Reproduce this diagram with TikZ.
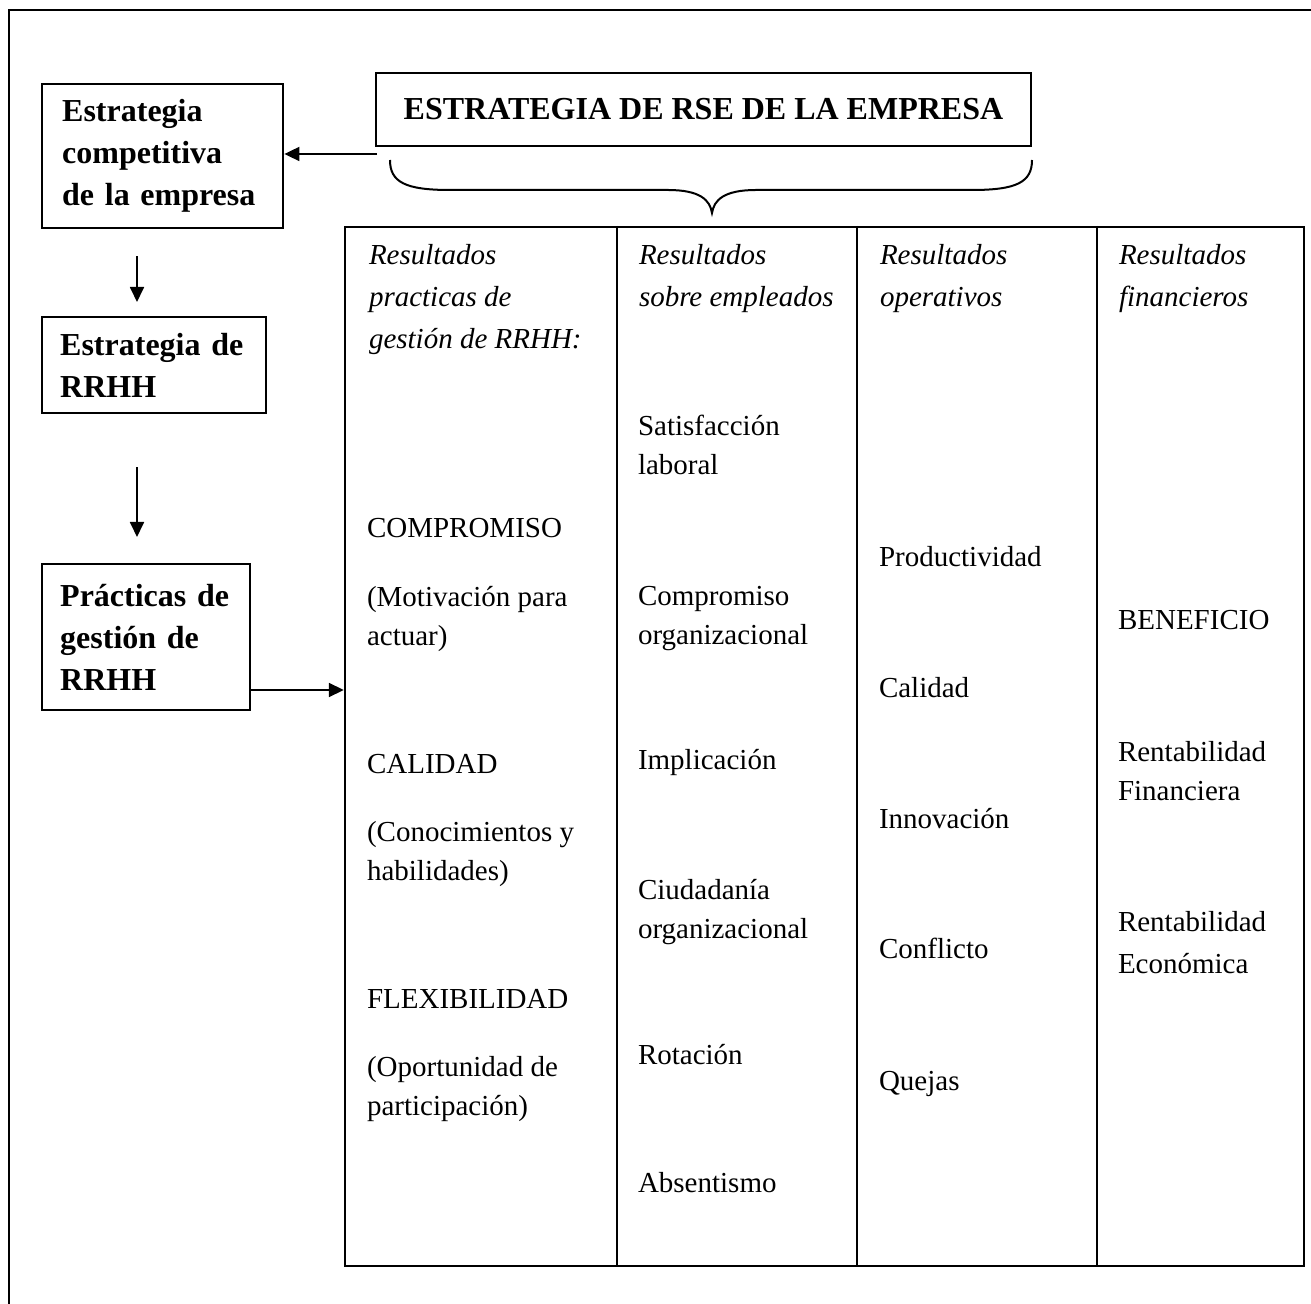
\documentclass[tikz,border=0pt]{standalone}
\usepackage{fontspec}
\setmainfont{Liberation Serif}
\usetikzlibrary{arrows.meta}
\begin{document}
\begin{tikzpicture}[x=0.5pt,y=-0.5pt,
  line width=1pt,
  bbox/.style={draw, line width=1.2pt, font=\fontsize{16pt}{21pt}\selectfont\bfseries,
    align=left, inner xsep=10pt, inner ysep=0pt, anchor=north west},
  cell/.style={font=\fontsize{14.5pt}{19.5pt}\selectfont, align=left, inner sep=0pt, anchor=north west},
  head/.style={cell, font=\fontsize{14.5pt}{21pt}\selectfont\itshape},
  arr/.style={-{Triangle[length=7.5pt,width=7pt]}, line width=0.9pt}]
\clip (0,0) rectangle (1311,1304);
\fill[white] (0,0) rectangle (1311,1304);
% outer frame
\draw[line width=1.1pt] (9,1340) -- (9,10) -- (1340,10) -- (1340,1340) -- cycle;

% left boxes
\node[bbox, minimum width=120.5pt, minimum height=72pt, text width=100.5pt] (box1) at (41,83)
  {Estrategia\\competitiva\\de la empresa};
\node[bbox, inner xsep=9pt, minimum width=112pt, minimum height=48pt, text width=94pt] (box2) at (41,316)
  {Estrategia de\\RRHH};
\node[bbox, inner xsep=9pt, minimum width=104pt, minimum height=73pt, text width=86pt] (box3) at (41,563)
  {Prácticas de\\gestión de\\RRHH};

% title box
\node[draw, line width=1.2pt, minimum width=327.5pt, minimum height=36.5pt, inner sep=0pt,
  font=\fontsize{16pt}{20pt}\selectfont\bfseries] (rse) at (703.5,109.5) {ESTRATEGIA DE RSE DE LA EMPRESA};

% brace
\draw[line width=1pt] (390,160) .. controls (390,182) and (405,190) .. (450,190) -- (668,190)
  .. controls (700,190) and (710,200) .. (712,213)
  .. controls (714,200) and (724,190) .. (756,190) -- (972,190)
  .. controls (1017,190) and (1032,182) .. (1032,160);

% table
\node[draw, line width=1.2pt, minimum width=479.5pt, minimum height=519.5pt, inner sep=0pt] (tbl) at (824.5,746.5) {};
\coordinate (d1) at (617,0);
\coordinate (d2) at (857,0);
\coordinate (d3) at (1097,0);
\draw[line width=1.2pt] (tbl.north -| d1) -- (tbl.south -| d1);
\draw[line width=1.2pt] (tbl.north -| d2) -- (tbl.south -| d2);
\draw[line width=1.2pt] (tbl.north -| d3) -- (tbl.south -| d3);

% arrows
\coordinate (rsefoot) at (377,154);
\draw[arr] (rsefoot) -- (rsefoot -| box1.east);
\coordinate (vx) at (137,0);
\draw[arr, shorten <=13.5pt, shorten >=7pt] (box1.south -| vx) -- (box2.north -| vx);
\draw[arr, shorten <=26.5pt, shorten >=13pt] (box2.south -| vx) -- (box3.north -| vx);
\coordinate (h3) at (0,690);
\draw[arr] (box3.east |- h3) -- (tbl.west |- h3);

% column 1
\node[head] (c1h) at (368,243) {Resultados\\practicas de\\gestión de RRHH:};
\node[cell] (c1a) at (366,517) {COMPROMISO};
\node[cell] (c1b) at (366,585) {(Motivación para\\actuar)};
\node[cell] (c1c) at (366,753) {CALIDAD};
\node[cell] (c1d) at (366,820) {(Conocimientos y\\habilidades)};
\node[cell] (c1e) at (366,988) {FLEXIBILIDAD};
\node[cell] (c1f) at (366,1055) {(Oportunidad de\\participación)};

% column 2
\node[head] (c2h) at (638,243) {Resultados\\sobre empleados};
\node[cell] (c2a) at (637,414) {Satisfacción\\laboral};
\node[cell] (c2b) at (637,585) {Compromiso\\organizacional};
\node[cell] (c2c) at (637,748) {Implicación};
\node[cell] (c2d) at (637,878) {Ciudadanía\\organizacional};
\node[cell] (c2e) at (637,1043) {Rotación};
\node[cell] (c2f) at (637,1171) {Absentismo};

% column 3
\node[head] (c3h) at (879,243) {Resultados\\operativos};
\node[cell] (c3a) at (878,545) {Productividad};
\node[cell] (c3b) at (878,676) {Calidad};
\node[cell] (c3c) at (878,807) {Innovación};
\node[cell] (c3d) at (878,937) {Conflicto};
\node[cell] (c3e) at (878,1070) {Quejas};

% column 4
\node[head] (c4h) at (1118,243) {Resultados\\financieros};
\node[cell] (c4a) at (1117,609) {BENEFICIO};
\node[cell] (c4b) at (1117,740) {Rentabilidad\\Financiera};
\node[cell, font=\fontsize{14.5pt}{21pt}\selectfont] (c4c) at (1117,910) {Rentabilidad\\Económica};
\end{tikzpicture}
\end{document}
